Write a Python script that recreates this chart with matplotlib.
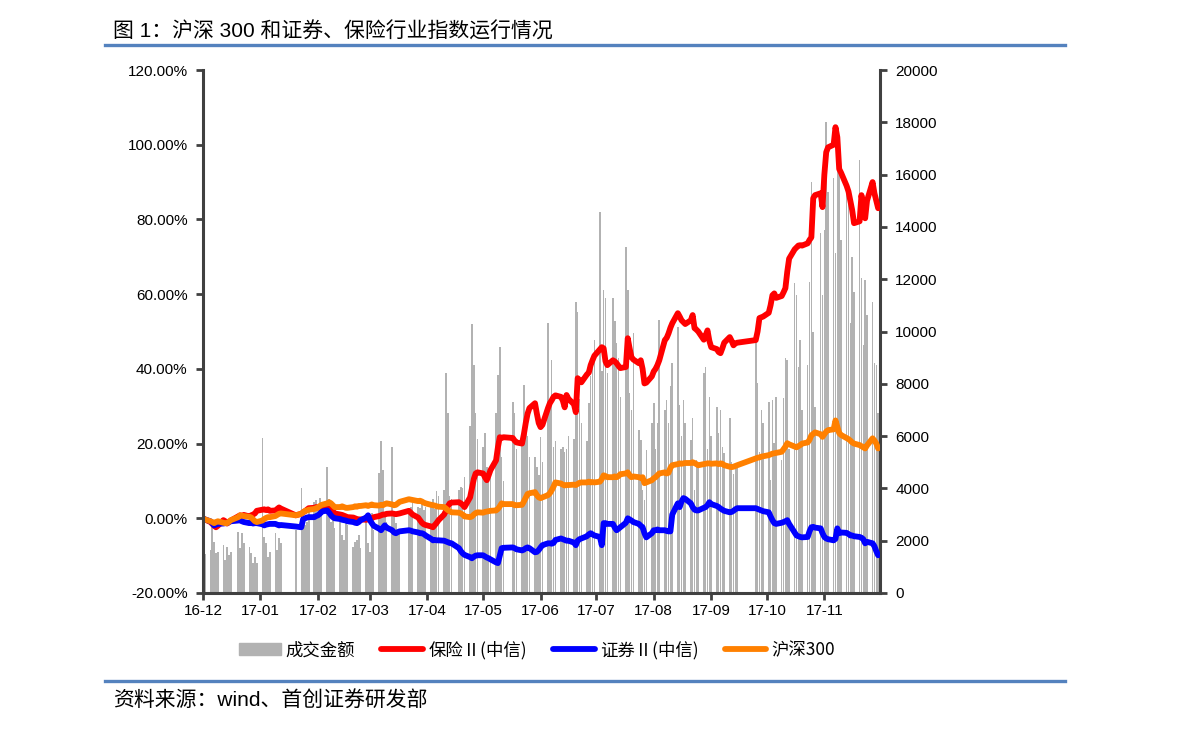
import matplotlib
matplotlib.use('Agg')
import matplotlib.pyplot as plt
from matplotlib.lines import Line2D
from matplotlib.patches import Patch
from matplotlib.ticker import FuncFormatter
import numpy as np
import pandas as pd

plt.rcParams['font.family'] = ['Liberation Sans', 'Noto Sans CJK SC']

# trading calendar: weekdays minus exchange holidays
HOLIDAYS = ['2017-01-02', '2017-01-27', '2017-01-30', '2017-01-31', '2017-02-01',
            '2017-02-02', '2017-04-03', '2017-04-04', '2017-05-01', '2017-05-29',
            '2017-05-30', '2017-10-02', '2017-10-03', '2017-10-04', '2017-10-05',
            '2017-10-06']
START = '2016-12-15'
END = '2017-12-14'

TICK_DATES = ['2016-12-15', '2017-01-15', '2017-02-15', '2017-03-15', '2017-04-15',
              '2017-05-15', '2017-06-15', '2017-07-15', '2017-08-15', '2017-09-15',
              '2017-10-15', '2017-11-15']
TICK_LABELS = ['16-12', '17-01', '17-02', '17-03', '17-04', '17-05',
               '17-06', '17-07', '17-08', '17-09', '17-10', '17-11']

# 成交金额 (right axis), one value per trading day, one row per week
volume = [
    1800, 1500,
    1640, 2520, 1950, 1530, 1570,
    1830, 1260, 1760, 1450, 1570,
    2330, 1720, 2290, 1910,
    1760, 1530, 1150, 1380, 1150,
    5930, 2140, 1910, 1380, 1570,
    2290, 1640, 2100, 1910,
    2410,
    4020, 2700, 2600, 2700, 3100,
    3480, 3560, 3170, 3630, 3480,
    4800, 3600, 2700, 3000, 2500,
    2790, 2220, 2030, 2910, 2600,
    1760, 1950, 2030, 2220, 1720,
    2910, 1910, 1570, 3060, 2410,
    4600, 5800, 4700, 3100, 2700,
    5580, 3060, 2680, 2410, 2290,
    3170, 3290, 3440,
    3290, 3250, 3440, 3170, 3290,
    3300, 3600, 3200, 3900, 3700,
    3940, 8410, 6880, 3700, 3600,
    3940, 4050, 4020, 4440,
    6400, 10300, 8700, 6900, 5900,
    5600, 6100, 4800, 4300, 4800,
    6880, 8340, 9410, 5200, 4300,
    7300, 6880, 5500,
    5700, 7950, 6500, 6000, 5200,
    5200, 4800, 4500, 5970, 5000,
    10330, 7380, 8910, 5580, 5800,
    5500, 5600, 5400, 5500, 6000,
    5900, 11130, 10750, 7400, 6500,
    5800, 7270, 8300, 8900, 9680,
    14570, 8500, 11590, 11300, 8400,
    11280, 10400, 9560, 9000, 7500,
    13230, 11590, 7650, 7000, 9940,
    6230, 5850, 3940, 3560, 5470,
    6500, 7270, 5500, 6500, 10440,
    7000, 7380, 6500, 7900, 8800,
    10170, 7190, 6000, 7380, 6500,
    5850, 6690, 3940, 5090, 4800,
    8410, 8640, 5500, 7500, 6000,
    7110, 6120, 7000, 5580, 5350,
    6690, 5020, 4550, 4860, 4780,
    9800, 8030, 5390, 7000, 6500,
    7300, 4320, 7380, 5740, 7500,
    5090, 7460, 8990, 8900, 5500,
    11850, 11400, 8640, 9680, 7000,
    8720, 11900, 15720, 10000, 7110,
    13770, 11400, 13880, 18010, 15330,
    15870, 13000, 17250, 16670, 13500,
    15680, 15030, 10330, 12850, 11500,
    16560, 12050, 9500, 11970, 10630,
    11130, 8800, 8720, 6880,
]

# 保险II(中信), cumulative change in %
insurance = [
    0.0, -0.3,
    -1.0, -1.5, -2.0, -2.4, -2.0,
    -0.5, -0.8, -1.4, -1.0, -0.6,
    0.5, 0.8, 0.6, 0.9,
    0.5, 0.8, 1.0, 1.3, 2.0,
    2.3, 2.4, 2.2, 2.4, 2.0,
    2.1, 2.5, 2.9, 2.6,
    0.8,
    1.2, 1.6, 1.9, 2.3, 2.7,
    2.8, 3.0, 2.9, 2.9, 2.7,
    2.8, 2.6, 2.4, 1.8, 1.3,
    1.0, 0.9, 0.7, 0.5, 0.3,
    0.2, 0.0, -0.2, -0.3, -0.3,
    -0.4, -0.3, -0.3, 0.0, 0.3,
    0.6, 0.8, 1.0, 1.0, 1.2,
    1.3, 1.2, 1.1, 1.2, 1.3,
    2.0, 1.5, 1.0,
    0.2, -0.5, -1.2, -1.6, -1.8,
    -2.2, -2.4, -1.8, -1.2, -0.5,
    1.0, 2.0, 3.2, 4.0, 4.2,
    4.3, 4.0, 3.6, 3.0,
    5.6, 8.0, 10.5, 12.0, 12.3,
    12.0, 11.0, 10.2, 11.5, 12.9,
    15.5, 19.0, 21.7, 21.5, 21.7,
    21.5, 20.8, 20.3,
    20.0, 22.5, 25.5, 28.0, 29.5,
    30.8, 28.0, 25.5, 24.4, 25.0,
    29.5, 30.8, 31.6, 32.5, 32.9,
    32.5, 31.5, 29.7, 33.0, 32.0,
    30.5, 28.4, 37.5, 37.0, 36.4,
    38.5, 39.0, 41.0, 42.3, 43.5,
    45.2, 45.8, 45.5, 42.0, 41.0,
    42.3, 42.0, 41.5, 40.8, 40.2,
    40.5, 48.2, 45.5, 43.1, 42.5,
    41.5, 42.3, 40.0, 36.1, 36.3,
    38.0, 39.3, 40.0, 41.0, 42.3,
    47.7, 48.3, 49.5, 51.0, 52.2,
    54.9, 54.0, 53.0, 52.5, 52.0,
    53.0, 54.4, 50.9, 50.5, 50.0,
    47.8, 49.0, 50.3, 47.5, 45.8,
    45.3, 44.5, 44.2, 45.5, 47.0,
    48.5, 47.5, 46.3, 46.8, 47.0,
    47.7, 50.0, 53.6, 53.8, 54.0,
    55.0, 57.0, 59.7, 60.2, 59.0,
    59.5, 60.5, 61.6, 66.0, 69.5,
    72.0, 72.5, 73.0, 73.1, 73.0,
    73.6, 74.5, 75.2, 85.7, 86.5,
    87.0, 83.3, 92.0, 98.0, 99.3,
    100.0, 104.7, 102.0, 93.5, 92.5,
    89.0, 87.5, 85.0, 82.5, 79.0,
    79.5, 86.5, 83.0, 80.3, 85.0,
    90.0, 87.0, 85.0, 83.0,
]

# 证券II(中信), cumulative change in %
securities = [
    0.0, -0.3,
    -0.8, -1.3, -1.9, -1.7, -1.5,
    -1.4, -1.3, -1.3, -1.0, -0.8,
    -0.6, -0.5, -0.8, -1.0,
    -1.3, -1.2, -1.4, -1.3, -1.3,
    -1.6, -1.9, -1.7, -1.6, -1.5,
    -1.5, -1.7, -1.9, -1.8,
    -2.2,
    -2.4, -0.2, 0.0, 0.2, 0.3,
    0.3, 0.6, 0.8, 1.2, 1.8,
    2.1, 1.5, 0.8, 0.3, 0.0,
    -0.2, -0.4, -0.5, -0.6, -0.8,
    -1.0, -1.2, -1.3, -1.0, -0.5,
    0.2, 0.8, -0.5, -1.3, -2.0,
    -2.8, -3.2, -2.5, -1.9, -2.5,
    -3.2, -3.8, -4.0, -3.7, -3.5,
    -3.2, -3.3, -3.5,
    -3.8, -4.0, -4.0, -4.2, -4.6,
    -5.5, -5.9, -5.8, -5.9, -5.9,
    -6.0, -6.2, -6.4, -6.6, -6.7,
    -8.0, -8.8, -9.4, -9.8,
    -10.4, -10.7, -10.3, -10.0, -9.9,
    -9.9, -10.2, -10.5, -10.7, -11.0,
    -11.8, -12.0, -10.0, -8.0, -7.9,
    -7.8, -8.0, -8.3,
    -8.6, -8.4, -8.0, -7.8, -8.0,
    -9.1, -9.0, -8.5, -7.8, -7.2,
    -6.7, -6.7, -6.8, -6.6, -5.8,
    -5.4, -5.6, -5.8, -6.0, -6.0,
    -6.5, -7.2, -6.0, -5.6, -5.4,
    -4.8, -4.3, -4.0, -4.3, -4.6,
    -5.0, -7.2, -1.3, -1.3, -1.5,
    -1.5, -2.5, -3.2, -2.8, -2.4,
    -1.2, 0.0, -0.3, -0.6, -1.0,
    -1.5, -2.0, -2.4, -4.0, -5.1,
    -4.0, -3.2, -3.2, -3.0, -3.2,
    -3.2, -3.4, -3.5, -3.5, 1.0,
    4.0, 3.0, 4.5, 5.4, 5.2,
    4.0, 3.0, 2.3, 2.1, 2.1,
    2.8, 3.0, 3.5, 4.3, 3.8,
    3.3, 3.0, 2.6, 2.3, 2.0,
    1.6, 1.7, 2.0, 2.4, 2.7,
    2.7, 2.5, 2.3, 2.1, 1.9,
    1.6, 0.5, -0.5, -1.3, -1.5,
    -1.2, -1.0, -0.8, -0.5, -1.5,
    -3.8, -4.6, -4.8, -5.0, -5.1,
    -5.0, -3.5, -2.4, -2.3, -2.5,
    -2.7, -4.0, -5.0, -5.4, -5.6,
    -5.9, -5.5, -2.7, -4.0, -3.8,
    -3.9, -4.2, -4.6, -4.6, -4.8,
    -5.0, -5.2, -5.6, -6.7, -6.3,
    -6.7, -7.5, -8.8, -9.9,
]

# 沪深300, cumulative change in %
hs300 = [
    0.0, -0.3,
    -0.8, -1.0, -1.3, -1.0, -0.8,
    -1.2, -1.3, -1.3, -0.9, -0.5,
    0.3, 0.8, 0.7, 0.6,
    0.4, 0.2, -0.3, -0.8, -1.0,
    -0.6, -0.2, 0.1, 0.3, 0.3,
    0.6, 0.9, 1.2, 1.3,
    0.8,
    1.2, 1.6, 2.0, 2.1, 2.3,
    2.5, 2.7, 2.9, 3.3, 3.6,
    4.0, 4.3, 4.0, 3.5, 3.0,
    3.0, 3.2, 3.0, 2.8, 2.8,
    3.0, 3.2, 3.1, 3.3, 3.3,
    3.5, 3.3, 3.5, 3.7, 3.5,
    3.4, 3.6, 3.5, 3.8, 4.0,
    3.7, 3.5, 3.6, 4.0, 4.4,
    5.1, 5.0, 4.9,
    4.6, 4.7, 4.5, 4.2, 4.0,
    3.6, 3.5, 3.4, 3.2, 3.1,
    3.0, 2.6, 2.2, 1.9, 1.6,
    1.5, 1.3, 1.0, 0.5,
    0.3, 0.5, 1.0, 1.4, 1.6,
    1.5, 1.7, 1.8, 1.9, 2.0,
    2.1, 2.5, 3.2, 4.0, 3.8,
    3.8, 3.5, 3.5,
    3.6, 4.5, 5.5, 6.5, 6.7,
    7.0, 6.2, 5.6, 5.4, 5.6,
    6.2, 6.7, 7.5, 8.5, 9.6,
    9.3, 9.0, 8.8, 8.9, 8.9,
    9.0, 8.9, 9.2, 9.5, 9.6,
    9.6, 9.8, 9.6, 9.7, 9.6,
    9.8, 10.5, 11.5, 11.3, 11.0,
    11.0, 11.2, 11.0, 11.3, 11.8,
    12.0, 12.3, 11.5, 11.0, 11.2,
    11.0, 10.8, 11.0, 9.4, 9.6,
    10.2, 10.7, 11.0, 11.5, 12.0,
    12.3, 12.0, 12.2, 13.5, 14.2,
    14.5, 14.7, 14.6, 14.7, 14.8,
    14.8, 15.0, 14.8, 14.5, 14.2,
    14.5, 14.6, 14.7, 14.7, 14.6,
    14.7, 14.5, 14.7, 14.6, 14.2,
    13.8, 13.7, 13.8, 14.0, 14.2,
    16.0, 16.2, 16.3, 16.5, 16.6,
    16.9, 17.1, 17.3, 17.4, 17.5,
    17.8, 18.5, 19.2, 20.1, 19.8,
    19.2, 19.0, 19.3, 19.6, 20.0,
    20.3, 21.0, 22.2, 22.6, 23.0,
    22.5, 21.8, 22.5, 23.2, 23.6,
    23.8, 26.2, 24.5, 22.8, 22.3,
    21.5, 21.2, 20.8, 20.3, 20.0,
    19.6, 19.3, 19.0, 18.7, 19.5,
    21.4, 20.8, 20.0, 18.7,
]

dates = pd.bdate_range(START, END)
dates = dates[~dates.isin(pd.to_datetime(HOLIDAYS))]

SPINE = '#404040'
W, H = 1191, 732

fig = plt.figure(figsize=(W / 100, H / 100), dpi=100)
ax = fig.add_axes([203 / W, 139 / H, 677 / W, 523 / H])
ax2 = ax.twinx()

ax2.bar(dates, volume, width=0.85, color='#b2b2b2', linewidth=0)
ax.set_zorder(ax2.get_zorder() + 1)
ax.patch.set_visible(False)

line_kw = dict(lw=4.2, solid_joinstyle='round', solid_capstyle='round')
ax.plot(dates, insurance, color='#ff0000', **line_kw)
ax.plot(dates, securities, color='#0000ff', **line_kw)
ax.plot(dates, hs300, color='#ff8000', **line_kw)

ax.set_xlim(pd.Timestamp(START), pd.Timestamp('2017-12-15'))
ax.set_ylim(-20, 120)
ax.set_yticks(np.arange(-20, 121, 20))
ax.yaxis.set_major_formatter(FuncFormatter(lambda v, p: '%.2f%%' % v))
ax2.set_ylim(0, 20000)
ax2.set_yticks(np.arange(0, 20001, 2000))
ax.set_xticks(pd.to_datetime(TICK_DATES))
ax.set_xticklabels(TICK_LABELS)

for s in ['top', 'right']:
    ax.spines[s].set_visible(False)
for s in ['top', 'left', 'bottom']:
    ax2.spines[s].set_visible(False)
for sp in [ax.spines['left'], ax.spines['bottom'], ax2.spines['right']]:
    sp.set_color(SPINE)
    sp.set_linewidth(2.2)

ax.tick_params(axis='y', direction='out', length=5, width=2, color=SPINE,
               labelsize=11, pad=6)
ax.tick_params(axis='x', direction='out', length=5, width=2, color=SPINE,
               labelsize=11, pad=3)
ax2.tick_params(axis='y', direction='out', length=5, width=2, color=SPINE,
                labelsize=11, pad=6)

# title, rules and source
fig.text(113 / W, 1 - 32 / H, '图 1：沪深 300 和证券、保险行业指数运行情况',
         fontsize=15, va='center', ha='left')
fig.add_artist(Line2D([105 / W, 1065 / W], [1 - 44.5 / H] * 2,
                      color='#5482be', lw=2.4))
fig.add_artist(Line2D([105 / W, 1065 / W], [1 - 681 / H] * 2,
                      color='#5482be', lw=2.4))
fig.text(113 / W, 1 - 700 / H, '资料来源：wind、首创证券研发部',
         fontsize=15, va='center', ha='left')

handles = [Patch(color='#b2b2b2'),
           Line2D([], [], color='#ff0000', lw=4.2, solid_capstyle='round'),
           Line2D([], [], color='#0000ff', lw=4.2, solid_capstyle='round'),
           Line2D([], [], color='#ff8000', lw=4.2, solid_capstyle='round')]
labels = ['成交金额', '保险Ⅱ(中信)', '证券Ⅱ(中信)', '沪深300']
fig.legend(handles, labels, loc='center', bbox_to_anchor=(537 / W, 1 - 650 / H),
           ncol=4, frameon=False, handlelength=2.4, handletextpad=0.3,
           columnspacing=1.5, prop={'family': ['Noto Sans CJK SC'], 'size': 12.5})

fig.savefig('out.png', dpi=100)
